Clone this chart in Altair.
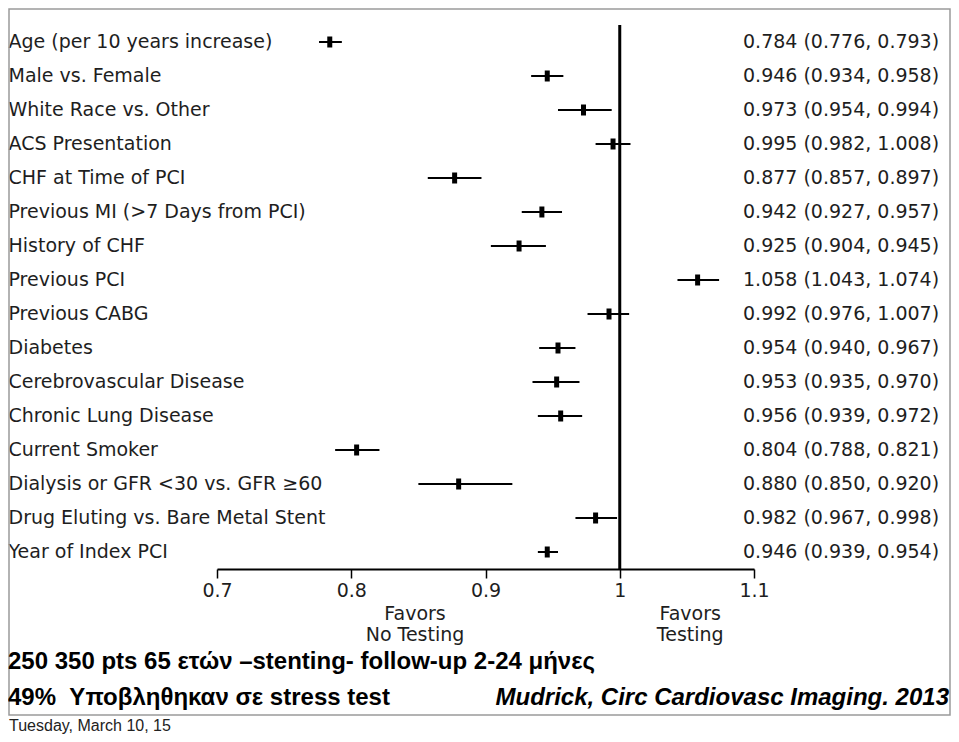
import altair as alt
import pandas as pd

labels = [
    "Age (per 10 years increase)",
    "Male vs. Female",
    "White Race vs. Other",
    "ACS Presentation",
    "CHF at Time of PCI",
    "Previous MI (>7 Days from PCI)",
    "History of CHF",
    "Previous PCI",
    "Previous CABG",
    "Diabetes",
    "Cerebrovascular Disease",
    "Chronic Lung Disease",
    "Current Smoker",
    "Dialysis or GFR <30 vs. GFR \u226560",
    "Drug Eluting vs. Bare Metal Stent",
    "Year of Index PCI",
]
or_vals = [0.784, 0.946, 0.973, 0.995, 0.877, 0.942, 0.925, 1.058,
           0.992, 0.954, 0.953, 0.956, 0.804, 0.880, 0.982, 0.946]
lo_vals = [0.776, 0.934, 0.954, 0.982, 0.857, 0.927, 0.904, 1.043,
           0.976, 0.940, 0.935, 0.939, 0.788, 0.850, 0.967, 0.939]
hi_vals = [0.793, 0.958, 0.994, 1.008, 0.897, 0.957, 0.945, 1.074,
           1.007, 0.967, 0.970, 0.972, 0.821, 0.920, 0.998, 0.954]
tick_vals = [0.7, 0.8, 0.9, 1.0, 1.1]
ref_line = [1.0]
favor_x = [0.8475, 1.0525]
favor_text = [["Favors", "No Testing"], ["Favors", "Testing"]]
note1 = "250 350 pts 65 ετών –stenting- follow-up 2-24 μήνες"
note2 = "49%\u00a0\u00a0Υποβληθηκαν σε stress test"
cite = "Mudrick, Circ Cardiovasc Imaging. 2013"
date_txt = "Tuesday, March 10, 15"

W, H = 537, 544
FONT = "DejaVu Sans"
FS = 19
BOLD = "Liberation Sans"
TXT = "#1e1e1e"

df = pd.DataFrame({"label": labels, "or": or_vals, "lo": lo_vals, "hi": hi_vals})
df["ci"] = [f"{o:.3f} ({l:.3f}, {h:.3f})" for o, l, h in zip(or_vals, lo_vals, hi_vals)]

xscale = alt.Scale(domain=[0.7, 1.1], nice=False, zero=False)
yenc = alt.Y("label:N", sort=labels, scale=alt.Scale(paddingInner=0, paddingOuter=0),
             axis=alt.Axis(title=None, labelAlign="left", labelPadding=209, ticks=False,
                           domain=False, labelFont=FONT, labelFontSize=FS,
                           labelColor=TXT, labelLimit=400))

base = alt.Chart(df)

ci = base.mark_rule(color="black", strokeWidth=2).encode(
    x=alt.X("lo:Q", scale=xscale,
            axis=alt.Axis(title=None, values=tick_vals, grid=False, labelFlush=False,
                          labelExpr="datum.value == 1 ? '1' : format(datum.value, '.1f')",
                          domainColor="black", domainWidth=2, tickColor="black",
                          tickWidth=1.5, tickSize=9, labelPadding=3,
                          labelFont=FONT, labelFontSize=FS, labelColor=TXT)),
    x2="hi:Q",
    y=yenc,
)

pts = base.mark_tick(color="black", thickness=5, size=11, opacity=1).encode(
    x=alt.X("or:Q", scale=xscale), y=alt.Y("label:N", sort=labels)
)

vline = alt.Chart(pd.DataFrame({"x": ref_line})).mark_rule(color="black", strokeWidth=3).encode(
    x=alt.X("x:Q", scale=xscale)
)

ci_txt = base.mark_text(align="left", baseline="middle", font=FONT, fontSize=FS,
                        color=TXT).encode(
    x=alt.value(526), y=alt.Y("label:N", sort=labels), text="ci:N"
)

fav = alt.Chart(pd.DataFrame({"x": favor_x, "t": favor_text})).mark_text(
    align="center", baseline="top", font=FONT, fontSize=FS, lineHeight=21, color=TXT
).encode(x=alt.X("x:Q", scale=xscale), y=alt.value(580), text="t")

notes = alt.Chart(pd.DataFrame({"t": [note1, note2], "y": [637, 673]})).mark_text(
    align="left", baseline="middle", font=BOLD, fontSize=24, fontWeight="bold", color="black"
).encode(x=alt.value(-209), y=alt.Y("y:Q", scale=None), text="t:N")

cite_txt = alt.Chart(pd.DataFrame({"t": [cite]})).mark_text(
    align="right", baseline="middle", font=BOLD, fontSize=24, fontWeight="bold",
    fontStyle="italic", color="black"
).encode(x=alt.value(732), y=alt.value(673), text="t:N")

date_mark = alt.Chart(pd.DataFrame({"t": [date_txt]})).mark_text(
    align="left", baseline="bottom", font="Liberation Sans", fontSize=16, color="#222222"
).encode(x=alt.value(-208), y=alt.value(709), text="t:N")

frame = alt.Chart(pd.DataFrame({"a": [0]})).mark_rect(
    fill=None, stroke="#9a9a9a", strokeWidth=1.5
).encode(x=alt.value(-208), x2=alt.value(733), y=alt.value(-16), y2=alt.value(690))

chart = alt.layer(frame, vline, ci, pts, ci_txt, fav, notes, cite_txt, date_mark).properties(
    width=W, height=H,
    autosize=alt.AutoSizeParams(type="none"),
    padding={"left": 209, "top": 17, "right": 197, "bottom": 165},
).configure(background="white").configure_view(stroke=None)

chart.save("out.html", embed_options={"renderer": "svg", "actions": False})
